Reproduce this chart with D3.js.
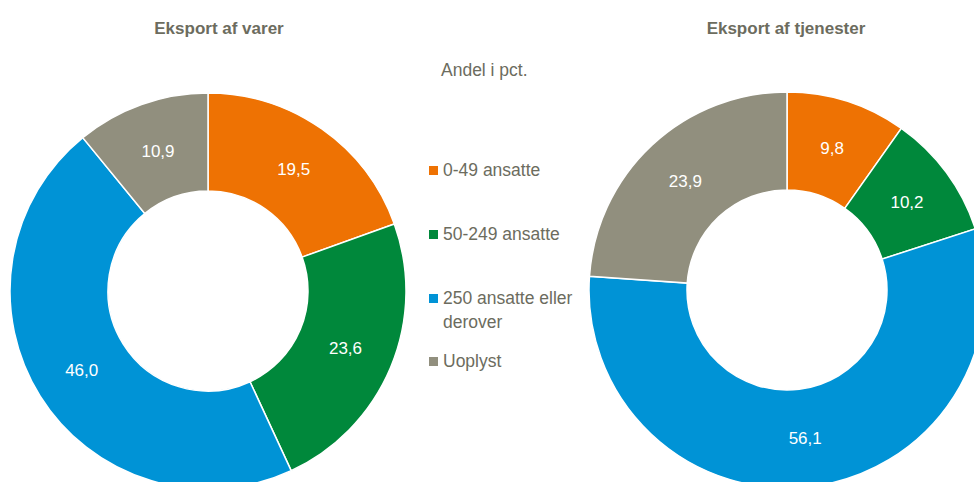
<!DOCTYPE html>
<html>
<head>
<meta charset="utf-8">
<script src="https://cdn.jsdelivr.net/npm/d3@7"></script>
<style>
  body { margin: 0; background: #fff; }
  svg { display: block; font-family: "Liberation Sans", Arial, sans-serif; }
</style>
</head>
<body>
<div id="chart"></div>
<script>
const width = 974, height = 482;

const categories = ["0-49 ansatte", "50-249 ansatte", "250 ansatte eller derover", "Uoplyst"];
const varerValues = [19.5, 23.6, 46.0, 10.9];
const tjenesterValues = [9.8, 10.2, 56.1, 23.9];
const chartTitles = ["Eksport af varer", "Eksport af tjenester"];
const colors = ["#ee7203", "#00883b", "#0093d6", "#918f7e"];

const colorScale = d3.scaleOrdinal().domain(categories).range(colors);
const textColor = "#6c6c5e";

const svg = d3.select("#chart").append("svg")
  .attr("width", width)
  .attr("height", height)
  .attr("viewBox", [0, 0, width, height]);

const outerR = 198, innerR = 100;

const pie = d3.pie().sort(null).value(d => d.value);
const arc = d3.arc().innerRadius(innerR).outerRadius(outerR);

const drawDonut = (values, cx, cy, title, titleX) => {
  const data = categories.map((c, i) => ({ key: c, value: values[i] }));
  const g = svg.append("g").attr("transform", `translate(${cx}, ${cy})`);

  g.selectAll("path")
    .data(pie(data))
    .join("path")
      .attr("d", arc)
      .attr("fill", d => colorScale(d.data.key))
      .attr("stroke", "#fff")
      .attr("stroke-width", 1.5);

  g.selectAll("text")
    .data(pie(data))
    .join("text")
      .attr("transform", d => `translate(${arc.centroid(d)})`)
      .attr("text-anchor", "middle")
      .attr("dy", "0.35em")
      .attr("fill", "#fff")
      .attr("font-size", 17)
      .text(d => d3.format(".1f")(d.data.value).replace(".", ","));

  svg.append("text")
    .attr("x", titleX)
    .attr("y", 34)
    .attr("text-anchor", "middle")
    .attr("fill", textColor)
    .attr("font-size", 17)
    .attr("font-weight", "bold")
    .text(title);
};

drawDonut(varerValues, 208, 291, chartTitles[0], 219);
drawDonut(tjenesterValues, 787, 290, chartTitles[1], 786);

// legend
svg.append("text")
  .attr("x", 441)
  .attr("y", 76)
  .attr("fill", textColor)
  .attr("font-size", 17.5)
  .text("Andel i pct.");

const legendY = [170, 234, 298, 361];
const legend = svg.append("g");
categories.forEach((c, i) => {
  const item = legend.append("g").attr("transform", `translate(429, ${legendY[i]})`);
  item.append("rect")
    .attr("x", 0).attr("y", -4)
    .attr("width", 9).attr("height", 9)
    .attr("fill", colorScale(c));
  const lines = c === "250 ansatte eller derover" ? ["250 ansatte eller", "derover"] : [c];
  item.append("text")
    .attr("x", 14)
    .attr("fill", textColor)
    .attr("font-size", 17.5)
    .selectAll("tspan")
    .data(lines)
    .join("tspan")
      .attr("x", 14)
      .attr("y", (d, j) => 6 + j * 24)
      .text(d => d);
});
</script>
</body>
</html>
